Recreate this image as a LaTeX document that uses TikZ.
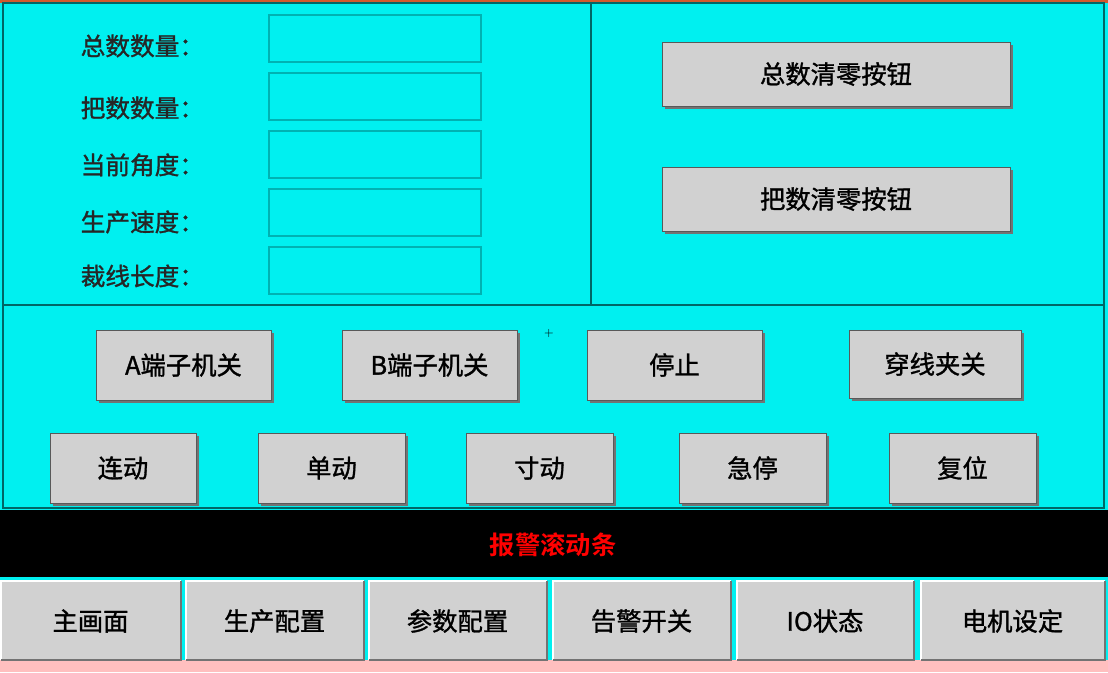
\documentclass[tikz,border=0pt]{standalone}
\usepackage{fontspec}
\newfontfamily\cjk[FakeBold=1.2]{Noto Sans CJK SC}
\newfontfamily\cjkb{Noto Sans CJK SC Bold}
\begin{document}
\begin{tikzpicture}[x=0.75pt,y=-0.75pt,
  btn/.style={draw=gray!70!black,fill=black!18,line width=0.6pt},
  field/.style={draw=teal!60!cyan,line width=0.8pt},
  lbl/.style={anchor=west,font=\cjk\fontsize{18.5}{18}\selectfont,text=black!85},
  sep/.style={draw=teal!80!black,line width=1.2pt}]
\definecolor{cy}{RGB}{0,240,240}
\fill[cy] (0,0) rectangle (1108,672);
\useasboundingbox (0,0) rectangle (1108,672);
\fill[brown!70!red] (0,0) rectangle (1108,3);
\draw[sep] (3,3) rectangle (1104,508);
\draw[sep] (591,3) -- (591,305);
\draw[sep] (3,305) -- (1104,305);
% labels and fields
\foreach \t/\y/\n in {总数数量：/46/a,把数数量：/108/b,当前角度：/165/c,生产速度：/222/d,裁线长度：/276/e}{
  \node[lbl] (l\n) at (76,\y) {\t};}
\foreach \y/\n in {15/a,73/b,131/c,189/d,247/e}{
  \draw[field] (269,\y) rectangle (481,\y+47) coordinate (f\n);}
\newcommand{\mybtn}[6]{%
  \fill[black!55] (#1+3,#2+3) rectangle (#3+3,#4+3);
  \draw[btn] (#1,#2) rectangle (#3,#4);
  \node[font=\cjk\fontsize{19}{19}\selectfont] (#6) at ({(#1+#3)/2},{(#2+#4)/2}) {#5};}
\mybtn{662}{42}{1010}{106}{总数清零按钮}{zq}
\mybtn{662}{167}{1010}{231}{把数清零按钮}{bq}
\mybtn{96}{330}{271}{400}{A端子机关}{ak}
\mybtn{342}{330}{517}{400}{B端子机关}{bk}
\mybtn{587}{330}{762}{400}{停止}{tz}
\mybtn{849}{330}{1021}{398}{穿线夹关}{cx}
\node[font=\small] (plus) at (549,333) {+};
\mybtn{50}{433}{196}{503}{连动}{ld}
\mybtn{258}{433}{405}{503}{单动}{dd}
\mybtn{466}{433}{613}{503}{寸动}{cd}
\mybtn{679}{433}{826}{503}{急停}{jt}
\mybtn{889}{433}{1036}{503}{复位}{fw}
% alarm bar
\fill[black] (0,510) rectangle (1108,577);
\node[font=\cjkb\fontsize{19}{19}\selectfont,text=red] (bj) at (553,545) {报警滚动条};
% bottom tabs
\fill[red!25] (0,660) rectangle (1108,672);
\foreach \a/\b/\t/\n in {0/181/主画面/t1,185/364/生产配置/t2,368/547/参数配置/t3,552/731/告警开关/t4,736/914/IO状态/t5,920/1105/电机设定/t6}{
  \fill[black!18] (\a,580) rectangle (\b,660);
  \draw[white,line width=1.5pt] (\a+1,660) -- (\a+1,581) -- (\b,581);
  \draw[black!55,line width=1.5pt] (\b,581) -- (\b,660) -- (\a+1,660);
  \node[font=\cjk\fontsize{19}{19}\selectfont] (\n) at ({(\a+\b)/2},621) {\t};}
\end{tikzpicture}
\end{document}
